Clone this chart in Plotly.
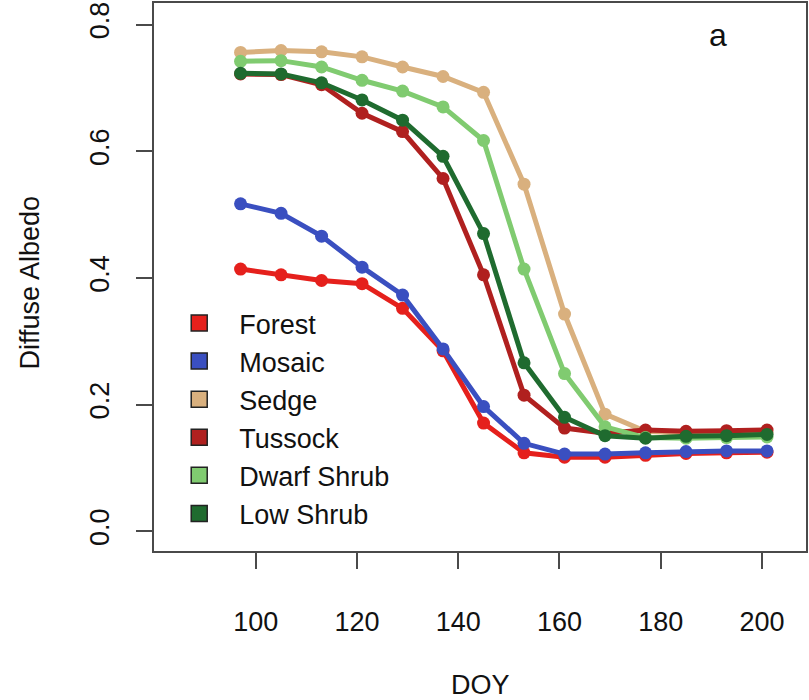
import plotly.graph_objects as go

doy = [97, 105, 113, 121, 129, 137, 145, 153, 161, 169, 177, 185, 193, 201]

forest = [0.414, 0.405, 0.396, 0.391, 0.352, 0.285, 0.171, 0.124, 0.117, 0.117, 0.120, 0.123, 0.124, 0.125]
mosaic = [0.517, 0.502, 0.466, 0.417, 0.373, 0.288, 0.197, 0.139, 0.122, 0.122, 0.124, 0.126, 0.127, 0.127]
sedge = [0.756, 0.759, 0.757, 0.749, 0.733, 0.718, 0.693, 0.548, 0.343, 0.185, 0.158, 0.155, 0.155, 0.156]
tussock = [0.722, 0.721, 0.705, 0.660, 0.631, 0.557, 0.405, 0.215, 0.163, 0.155, 0.160, 0.158, 0.159, 0.160]
dwarf_shrub = [0.742, 0.743, 0.733, 0.712, 0.695, 0.670, 0.617, 0.414, 0.249, 0.165, 0.148, 0.147, 0.148, 0.149]
low_shrub = [0.723, 0.722, 0.708, 0.681, 0.649, 0.592, 0.470, 0.266, 0.180, 0.151, 0.147, 0.150, 0.151, 0.153]

names = ["Forest", "Mosaic", "Sedge", "Tussock", "Dwarf Shrub", "Low Shrub"]
series = [forest, mosaic, sedge, tussock, dwarf_shrub, low_shrub]
colors = ["#E5201C", "#3A4FC0", "#D9B07E", "#B0201F", "#80CB70", "#1F6B2F"]

y_ticks = [0.0, 0.2, 0.4, 0.6, 0.8]
y_tick_labels = ["0.0", "0.2", "0.4", "0.6", "0.8"]
x_ticks = [100, 120, 140, 160, 180, 200]

FONT = "Liberation Sans, Arial, Helvetica, sans-serif"
AXC = "#4a4a4a"

fig = go.Figure()
for name, vals, col in zip(names, series, colors):
    fig.add_trace(go.Scatter(
        x=doy, y=vals, mode="lines+markers", name=name,
        line=dict(color=col, width=5),
        marker=dict(color=col, size=13),
        showlegend=False,
    ))
for name, col in zip(names, colors):
    fig.add_trace(go.Scatter(
        x=[None], y=[None], mode="markers", name=name,
        marker=dict(symbol="square", color=col, size=16,
                    line=dict(color="#222222", width=1.5)),
        showlegend=True,
    ))

fig.update_layout(
    template="none",
    width=809, height=700,
    margin=dict(l=154, r=3, t=3, b=149, autoexpand=False),
    paper_bgcolor="white", plot_bgcolor="white",
    font=dict(family=FONT, size=27, color="#111111"),
    legend=dict(
        x=0.008, y=0.46, xanchor="left", yanchor="top",
        bgcolor="rgba(0,0,0,0)", borderwidth=0, font=dict(size=27),
        itemsizing="trace", itemwidth=70, tracegroupgap=0,
    ),
    xaxis=dict(
        range=[79.9, 208.7], tickvals=x_ticks, automargin=False,
        showgrid=False, zeroline=False,
        showline=True, linecolor=AXC, linewidth=2, mirror=True,
        ticks="outside", ticklen=16, tickwidth=2, tickcolor=AXC,
        ticklabelstandoff=30,
        tickfont=dict(size=27),
    ),
    yaxis=dict(
        range=[-0.031, 0.834], tickvals=y_ticks, ticktext=y_tick_labels,
        automargin=False,
        showgrid=False, zeroline=False,
        showline=True, linecolor=AXC, linewidth=2, mirror=True,
        ticks="outside", ticklen=16, tickwidth=2, tickcolor=AXC,
        tickangle=-90, ticklabelstandoff=16,
        tickfont=dict(size=27),
    ),
    annotations=[
        dict(text="DOY", xref="paper", yref="paper", x=0.5, y=-0.245,
             xanchor="center", yanchor="middle", showarrow=False,
             font=dict(size=27)),
        dict(text="Diffuse Albedo", xref="paper", yref="paper", x=-0.19, y=0.49,
             xanchor="center", yanchor="middle", showarrow=False, textangle=-90,
             font=dict(size=27)),
        dict(text="a", xref="paper", yref="paper", x=0.865, y=0.942,
             xanchor="center", yanchor="middle", showarrow=False,
             font=dict(size=32)),
    ],
)

fig.write_html("out.html", config={"displayModeBar": False},
               post_script="document.body.style.margin='0';")
